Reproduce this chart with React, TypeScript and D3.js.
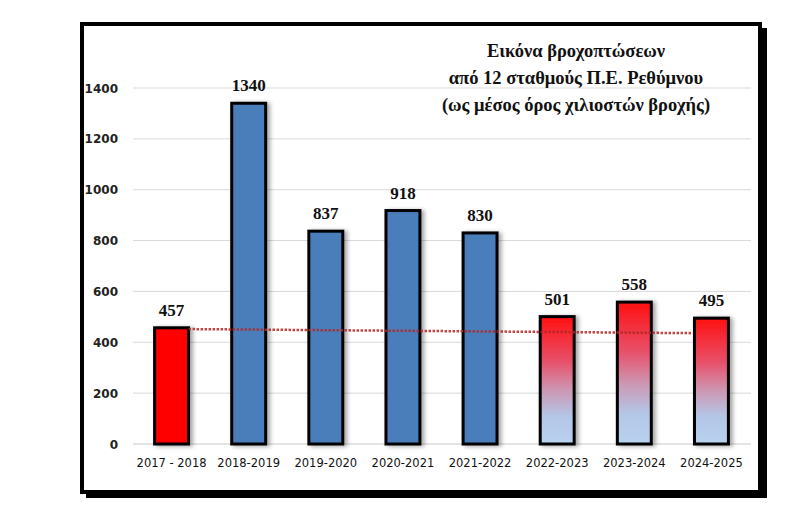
import React from 'react';
import * as d3 from 'd3';

const seasons = ['2017 - 2018', '2018-2019', '2019-2020', '2020-2021', '2021-2022', '2022-2023', '2023-2024', '2024-2025'];
const rainfall = [457, 1340, 837, 918, 830, 501, 558, 495];
// 0 = solid red, 1 = blue, 2 = red-to-blue gradient
const barStyle = [0, 1, 1, 1, 1, 2, 2, 2];
const yTicks = [0, 200, 400, 600, 800, 1000, 1200, 1400];
const trendEnds = [452, 436];
const titleLines = ['Εικόνα βροχοπτώσεων', 'από 12 σταθμούς Π.Ε. Ρεθύμνου', '(ως μέσος όρος χιλιοστών βροχής)'];

const W = 797;
const H = 507;

const App: React.FC = () => {
  const x = d3.scaleBand<string>()
    .domain(seasons)
    .range([133, 750])
    .paddingInner(0.56)
    .paddingOuter(0.28);

  const y = d3.scaleLinear().domain([0, 1400]).range([444, 88]);

  const fillFor = (s: number) => s === 0 ? '#ff0000' : s === 1 ? '#4a7ebb' : 'url(#redBlue)';

  const bw = x.bandwidth();
  const trend = d3.line<[number, number]>()
    .x(d => d[0])
    .y(d => y(d[1]));
  const trendPts: [number, number][] = [
    [(x(seasons[0]) || 0) + bw, trendEnds[0]],
    [(x(seasons[seasons.length - 1]) || 0) - 3, trendEnds[1]],
  ];

  return (
    <svg width={W} height={H} style={{ position: 'absolute', left: 0, top: 0, background: '#fff' }}>
      <defs>
        <linearGradient id="redBlue" x1="0" y1="0" x2="0" y2="1">
          <stop offset="0%" stopColor="#ff1010" />
          <stop offset="35%" stopColor="#e8506a" />
          <stop offset="58%" stopColor="#cc98b4" />
          <stop offset="78%" stopColor="#b4c6e6" />
          <stop offset="100%" stopColor="#b8d2ee" />
        </linearGradient>
        <filter id="barShadow" x="-30%" y="-10%" width="160%" height="120%">
          <feDropShadow dx="3" dy="1" stdDeviation="2" floodColor="#000" floodOpacity="0.35" />
        </filter>
      </defs>

      {/* frame with shadow */}
      <rect x={86} y={28} width={681} height={470} fill="#000" />
      <rect x={82} y={24} width={678} height={468} fill="#fff" stroke="#000" strokeWidth={4} />

      {/* gridlines */}
      {yTicks.map(t => (
        <line key={t} x1={133} x2={751} y1={y(t)} y2={y(t)} stroke={t === 0 ? '#c8c8c8' : '#d9d9d9'} strokeWidth={1} />
      ))}

      {/* y tick labels */}
      {yTicks.map(t => (
        <text key={t} x={118} y={y(t) + 4.5} textAnchor="end" fontFamily="DejaVu Sans" fontWeight="bold" fontSize={12} fill="#222">
          {t}
        </text>
      ))}

      {/* bars */}
      {seasons.map((s, i) => (
        <rect
          key={s}
          x={x(s)}
          y={y(rainfall[i])}
          width={bw}
          height={y(0) - y(rainfall[i])}
          fill={fillFor(barStyle[i])}
          stroke="#000"
          strokeWidth={3}
          filter="url(#barShadow)"
        />
      ))}

      {/* dotted trend */}
      <path d={trend(trendPts) || ''} fill="none" stroke="#b02828" strokeWidth={2.5} strokeDasharray="2.5,1.5" opacity={0.85} />

      {/* value labels */}
      {seasons.map((s, i) => (
        <text key={s} x={(x(s) || 0) + bw / 2} y={y(rainfall[i]) - 12} textAnchor="middle"
          fontFamily="Liberation Serif" fontWeight="bold" fontSize={17} fill="#111">
          {rainfall[i]}
        </text>
      ))}

      {/* category labels */}
      {seasons.map(s => (
        <text key={s} x={(x(s) || 0) + bw / 2} y={467} textAnchor="middle"
          fontFamily="DejaVu Sans" fontSize={11.5} fill="#111">
          {s}
        </text>
      ))}

      {/* title */}
      {titleLines.map((l, i) => (
        <text key={i} x={576} y={57 + i * 27} textAnchor="middle"
          fontFamily="Liberation Serif" fontWeight="bold" fontSize={18.5} fill="#111">
          {l}
        </text>
      ))}
    </svg>
  );
};

export default App;
